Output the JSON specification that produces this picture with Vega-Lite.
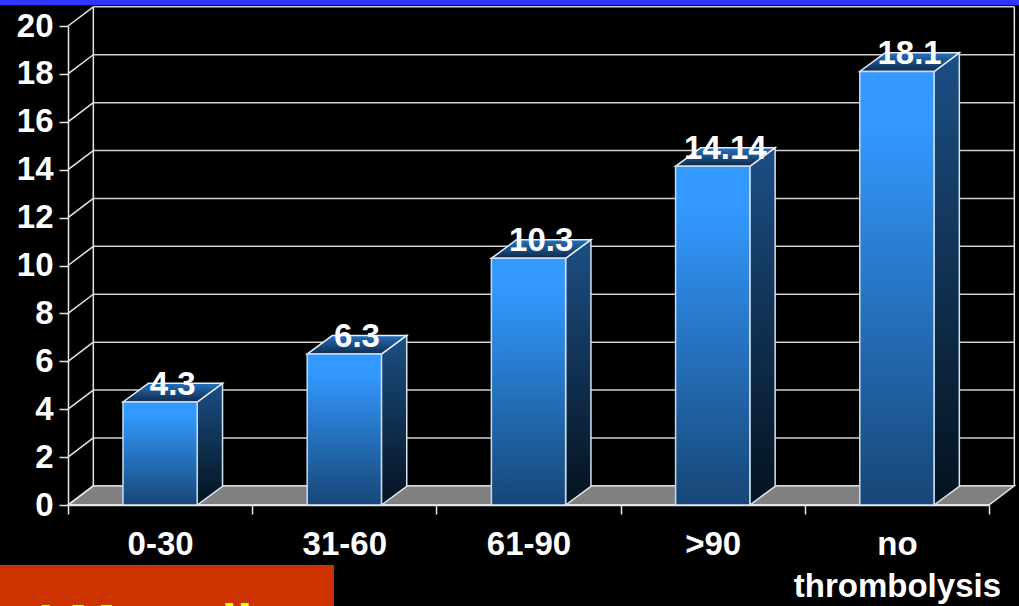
{
  "$schema": "https://vega.github.io/schema/vega-lite/v6.json",
  "width": 921,
  "height": 479,
  "autosize": "none",
  "padding": {"left": 68, "top": 26, "right": 30, "bottom": 101},
  "background": "#000000",
  "config": {
    "font": "Liberation Sans",
    "view": {"stroke": null},
    "axisY": {
      "grid": false,
      "labelFontSize": 33,
      "labelFontWeight": "bold",
      "labelColor": "#ffffff",
      "labelPadding": 6,
      "labelOverlap": false,
      "labelBound": false,
      "domainColor": "#e6e6e6",
      "domainWidth": 1.5,
      "tickColor": "#e6e6e6",
      "tickWidth": 1.5,
      "tickSize": 9
    }
  },
  "datasets": {
    "bars": [
      {"category": "0-30", "value": 4.3},
      {"category": "31-60", "value": 6.3},
      {"category": "61-90", "value": 10.3},
      {"category": ">90", "value": 14.14},
      {"category": "no thrombolysis", "value": 18.1}
    ],
    "levels": [
      {"level": 0}, {"level": 2}, {"level": 4}, {"level": 6}, {"level": 8}, {"level": 10},
      {"level": 12}, {"level": 14}, {"level": 16}, {"level": 18}, {"level": 20}
    ]
  },
  "resolve": {"scale": {"x": "independent"}},
  "layer": [
    {
      "description": "Slide header stripe",
      "data": {"values": [{"part": "header"}]},
      "mark": {"type": "rect", "color": "#3333ff"},
      "encoding": {
        "x": {"datum": -0.37, "type": "quantitative", "scale": {"domain": [0, 5]}, "axis": null},
        "x2": {"datum": 5.17},
        "y": {"datum": 20.87, "type": "quantitative", "scale": {"domain": [0, 20], "nice": false}, "axis": {"title": null, "values": [0, 2, 4, 6, 8, 10, 12, 14, 16, 18, 20]}},
        "y2": {"datum": 21.1}
      }
    },
    {
      "description": "Floor of the box",
      "data": {"values": [{"depth": 0}, {"depth": 1}]},
      "transform": [
        {"calculate": "datum.depth * 0.8", "as": "fy"},
        {"calculate": "datum.depth * 0.1375", "as": "fx"},
        {"calculate": "5 + datum.depth * 0.1375", "as": "fx2"}
      ],
      "mark": {"type": "area", "orient": "horizontal", "color": "#808080", "stroke": "#e6e6e6", "strokeWidth": 1.5},
      "encoding": {
        "y": {"field": "fy", "type": "quantitative", "axis": {"title": null}},
        "x": {"field": "fx", "type": "quantitative", "scale": {"domain": [0, 5]}, "axis": null},
        "x2": {"field": "fx2"}
      }
    },
    {
      "description": "Gridlines on the back wall",
      "data": {"name": "levels"},
      "transform": [
        {"calculate": "datum.level + 0.8", "as": "backY"},
        {"calculate": "0.1375", "as": "wallLeft"},
        {"calculate": "5.1375", "as": "wallRight"}
      ],
      "mark": {"type": "rule", "color": "#d0d0d0", "strokeWidth": 1.5},
      "encoding": {
        "x": {"field": "wallLeft", "type": "quantitative", "scale": {"domain": [0, 5]}, "axis": null},
        "x2": {"field": "wallRight"},
        "y": {"field": "backY", "type": "quantitative", "axis": {"title": null}}
      }
    },
    {
      "description": "Gridlines on the side wall",
      "data": {"name": "levels"},
      "transform": [
        {"calculate": "datum.level + 0.8", "as": "backY"},
        {"calculate": "0", "as": "wallFront"},
        {"calculate": "0.1375", "as": "wallBack"}
      ],
      "mark": {"type": "rule", "color": "#e6e6e6", "strokeWidth": 1.5},
      "encoding": {
        "x": {"field": "wallFront", "type": "quantitative", "scale": {"domain": [0, 5]}, "axis": null},
        "x2": {"field": "wallBack"},
        "y": {"field": "level", "type": "quantitative", "axis": {"title": null}},
        "y2": {"field": "backY"}
      }
    },
    {
      "description": "Vertical edges of the back wall",
      "data": {"values": [{"edge": 0.1375}, {"edge": 5.1375}]},
      "transform": [
        {"calculate": "0.8", "as": "wallBottom"},
        {"calculate": "20.8", "as": "wallTop"}
      ],
      "mark": {"type": "rule", "color": "#e6e6e6", "strokeWidth": 1.5},
      "encoding": {
        "x": {"field": "edge", "type": "quantitative", "scale": {"domain": [0, 5]}, "axis": null},
        "y": {"field": "wallBottom", "type": "quantitative", "axis": {"title": null}},
        "y2": {"field": "wallTop"}
      }
    },
    {
      "description": "Front edge of the floor, split by category, carrying the category axis",
      "data": {"name": "bars"},
      "mark": {"type": "rect", "stroke": "#e6e6e6", "strokeWidth": 1.5},
      "encoding": {
        "x": {
          "field": "category",
          "type": "nominal",
          "sort": null,
          "scale": {"paddingInner": 0, "paddingOuter": 0},
          "axis": {
            "title": null,
            "tickBand": "extent",
            "labelAngle": 0,
            "labelFontSize": 33,
            "labelFontWeight": "bold",
            "labelColor": "#ffffff",
            "labelLimit": 400,
            "labelPadding": 14,
            "labelLineHeight": 42,
            "labelOverlap": false,
            "labelExpr": "datum.value === 'no thrombolysis' ? ['no', 'thrombolysis'] : datum.label",
            "domainColor": "#e6e6e6",
            "domainWidth": 1.5,
            "tickColor": "#e6e6e6",
            "tickWidth": 1.5,
            "tickSize": 9
          }
        },
        "y": {"datum": 0, "type": "quantitative", "axis": {"title": null}},
        "y2": {"datum": 0}
      }
    },
    {
      "description": "Right face of each column",
      "data": {"name": "bars"},
      "transform": [
        {"window": [{"op": "row_number", "as": "slot"}]},
        {"calculate": "[0, 1]", "as": "depth"},
        {"flatten": ["depth"]},
        {"calculate": "datum.slot - 0.5 + 0.2015 + datum.depth * 0.1375", "as": "sx"},
        {"calculate": "datum.value + datum.depth * 0.78", "as": "sy"},
        {"calculate": "datum.depth * 0.78", "as": "sy2"}
      ],
      "mark": {
        "type": "area",
        "stroke": "#d8e4f0",
        "strokeWidth": 1.5,
        "color": {
          "gradient": "linear", "x1": 0, "y1": 0, "x2": 0, "y2": 1,
          "stops": [{"offset": 0, "color": "#1c4f85"}, {"offset": 1, "color": "#04121e"}]
        }
      },
      "encoding": {
        "x": {"field": "sx", "type": "quantitative", "scale": {"domain": [0, 5]}, "axis": null},
        "y": {"field": "sy", "type": "quantitative", "axis": {"title": null}},
        "y2": {"field": "sy2"},
        "detail": {"field": "category"}
      }
    },
    {
      "description": "Top face of each column",
      "data": {"name": "bars"},
      "transform": [
        {"window": [{"op": "row_number", "as": "slot"}]},
        {"calculate": "[0, 1]", "as": "depth"},
        {"flatten": ["depth"]},
        {"calculate": "datum.slot - 0.5 - 0.2015 + datum.depth * 0.1375", "as": "tx"},
        {"calculate": "datum.slot - 0.5 + 0.2015 + datum.depth * 0.1375", "as": "tx2"},
        {"calculate": "datum.value + datum.depth * 0.78", "as": "ty"}
      ],
      "mark": {
        "type": "area",
        "orient": "horizontal",
        "stroke": "#e6eef6",
        "strokeWidth": 1.5,
        "color": {
          "gradient": "linear", "x1": 0, "y1": 0, "x2": 0, "y2": 1,
          "stops": [{"offset": 0, "color": "#2472c0"}, {"offset": 1, "color": "#0e2a4a"}]
        }
      },
      "encoding": {
        "y": {"field": "ty", "type": "quantitative", "axis": {"title": null}},
        "x": {"field": "tx", "type": "quantitative", "scale": {"domain": [0, 5]}, "axis": null},
        "x2": {"field": "tx2"},
        "detail": {"field": "category"}
      }
    },
    {
      "description": "Front face of each column",
      "data": {"name": "bars"},
      "mark": {
        "type": "bar",
        "stroke": "#c8dcf0",
        "strokeWidth": 1.5,
        "color": {
          "gradient": "linear", "x1": 0, "y1": 0, "x2": 0, "y2": 1,
          "stops": [{"offset": 0, "color": "#3399ff"}, {"offset": 0.12, "color": "#3399ff"}, {"offset": 1, "color": "#174676"}]
        }
      },
      "encoding": {
        "x": {
          "field": "category",
          "type": "nominal",
          "sort": null,
          "scale": {"paddingInner": 0.597, "paddingOuter": 0.2985},
          "axis": null
        },
        "y": {"field": "value", "type": "quantitative", "axis": {"title": null}}
      }
    },
    {
      "description": "Value printed over each column",
      "data": {"name": "bars"},
      "transform": [
        {"window": [{"op": "row_number", "as": "slot"}]},
        {"calculate": "datum.slot - 0.5 + 0.06875", "as": "lx"},
        {"calculate": "datum.value + 0.72", "as": "ly"}
      ],
      "mark": {"type": "text", "color": "#ffffff", "fontSize": 33, "fontWeight": "bold", "baseline": "middle", "align": "center"},
      "encoding": {
        "x": {"field": "lx", "type": "quantitative", "scale": {"domain": [0, 5]}, "axis": null},
        "y": {"field": "ly", "type": "quantitative", "axis": {"title": null}},
        "text": {"field": "value", "type": "nominal"}
      }
    },
    {
      "description": "Caption panel along the lower edge",
      "data": {"values": [{"part": "caption"}]},
      "mark": {"type": "rect", "color": "#cc3300"},
      "encoding": {
        "x": {"datum": -0.37, "type": "quantitative", "scale": {"domain": [0, 5]}, "axis": null},
        "x2": {"datum": 1.444},
        "y": {"datum": -2.505, "type": "quantitative", "axis": {"title": null}},
        "y2": {"datum": -4.3}
      }
    },
    {
      "description": "Caption text, running off the lower edge",
      "data": {"values": [{"caption": "I Mortality"}]},
      "mark": {"type": "text", "color": "#ffff00", "fontSize": 56, "fontWeight": "bold", "align": "left", "baseline": "alphabetic"},
      "encoding": {
        "x": {"datum": -0.163, "type": "quantitative", "scale": {"domain": [0, 5]}, "axis": null},
        "y": {"datum": -5.75, "type": "quantitative", "axis": {"title": null}},
        "text": {"field": "caption", "type": "nominal"}
      }
    }
  ]
}
